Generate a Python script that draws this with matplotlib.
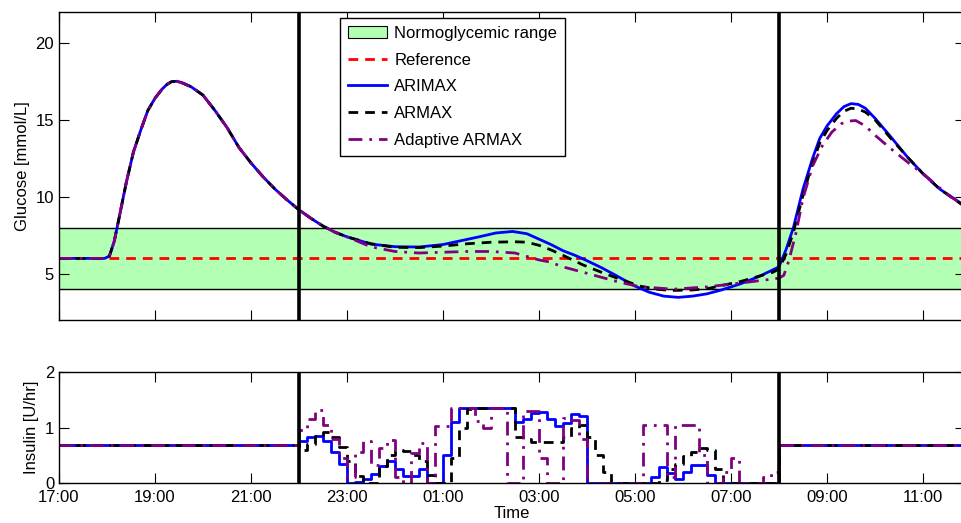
import numpy as np
import matplotlib
matplotlib.use("Agg")
import matplotlib.pyplot as plt
from matplotlib.patches import Patch
from matplotlib.lines import Line2D

plt.rcParams['font.family'] = ['Liberation Sans', 'DejaVu Sans']
plt.rcParams['font.size'] = 12

# glucose (hours since 00:00 of day 1, values mmol/L)
t_common = [17.0, 17.95, 18.05, 18.15, 18.25, 18.4, 18.55, 18.7, 18.85, 19.0, 19.15,
            19.25, 19.35, 19.45, 19.55, 19.75, 20.0, 20.25, 20.5, 20.75, 21.0, 21.25, 21.5,
            21.75, 22.0, 22.25, 22.5, 22.75, 23.0]
g_common = [6.0, 6.0, 6.15, 7.1, 8.6, 10.9, 12.9, 14.3, 15.6, 16.4, 17.0,
            17.3, 17.48, 17.5, 17.42, 17.15, 16.6, 15.6, 14.5, 13.2, 12.2, 11.3, 10.5,
            9.8, 9.15, 8.6, 8.1, 7.7, 7.4]

t_arimax = [23.5, 24.0, 24.5, 25.0, 25.3, 25.75, 26.1, 26.45, 26.75, 27.0, 27.25,
            27.5, 27.75, 28.0, 28.3, 28.6, 29.0, 29.3, 29.6, 29.9, 30.2, 30.5,
            30.8, 31.2, 31.6, 32.0, 32.15, 32.3, 32.5, 32.7, 32.85, 33.0, 33.2,
            33.35, 33.5, 33.65, 33.8, 34.0, 34.3, 34.67, 35.0, 35.35, 35.9]
g_arimax = [6.93, 6.76, 6.74, 6.9, 7.1, 7.4, 7.65, 7.75, 7.6, 7.25, 6.9,
            6.5, 6.2, 5.85, 5.4, 4.9, 4.2, 3.8, 3.55, 3.47, 3.55, 3.7,
            3.95, 4.35, 4.85, 5.45, 6.6, 8.0, 10.5, 12.5, 13.8, 14.6, 15.4,
            15.85, 16.05, 16.0, 15.75, 15.1, 14.0, 12.6, 11.5, 10.5, 9.35]

t_armax = [23.5, 24.0, 24.5, 25.0, 25.5, 26.0, 26.5, 26.75, 27.0, 27.25, 27.5,
           27.9, 28.3, 28.6, 29.1, 29.5, 29.8, 30.2, 30.5, 31.2, 31.87, 32.0,
           32.15, 32.3, 32.5, 32.7, 32.85, 33.0, 33.2, 33.35, 33.5, 33.65, 33.8,
           34.0, 34.3, 34.67, 35.0, 35.35, 35.9]
g_armax = [6.95, 6.72, 6.7, 6.8, 6.95, 7.05, 7.08, 7.05, 6.85, 6.55, 6.2,
           5.6, 5.1, 4.75, 4.2, 3.98, 3.92, 3.95, 4.03, 4.5, 5.1, 5.3,
           6.3, 7.7, 10.1, 12.2, 13.5, 14.3, 15.1, 15.55, 15.75, 15.7, 15.5,
           15.0, 13.9, 12.6, 11.5, 10.5, 9.3]

t_adapt = [23.5, 24.0, 24.5, 25.0, 25.5, 26.0, 26.5, 27.0, 27.22, 27.5, 27.92,
           28.62, 29.1, 29.8, 30.5, 31.2, 31.87, 32.0, 32.1, 32.2, 32.35, 32.5,
           32.7, 32.9, 33.1, 33.3, 33.45, 33.6, 33.8, 34.0, 34.3, 34.7, 35.08,
           35.45, 35.9]
g_adapt = [6.75, 6.45, 6.35, 6.4, 6.45, 6.45, 6.35, 5.9, 5.77, 5.45, 5.1,
           4.5, 4.16, 4.0, 4.15, 4.4, 4.66, 4.72, 4.9, 5.8, 7.6, 9.9,
           12.0, 13.3, 14.2, 14.75, 14.92, 14.95, 14.6, 14.0, 13.2, 12.2, 11.3,
           10.3, 9.3]

ref_level = 6.0
normo_low, normo_high = 4.0, 8.0

# insulin: basal rate, and 10-min controller steps 22:00 -> 08:00
basal = 0.68
ins_arimax = [0.75, 0.82, 0.85, 0.75, 0.55, 0.35, 0, 0.02, 0.08, 0.17,
              0.3, 0.4, 0.26, 0.12, 0.12, 0.25, 0, 0, 0.5, 1.1,
              1.36, 1.36, 1.36, 1.36, 1.36, 1.36, 1.36, 1.1, 1.15, 1.26,
              1.28, 1.15, 1.02, 1.08, 1.25, 1.2, 0, 0, 0, 0,
              0, 0, 0, 0, 0.1, 0.29, 0.18, 0.07, 0.2, 0.33,
              0.32, 0.15, 0, 0, 0, 0, 0, 0, 0, 0]
ins_armax = [0.6, 0.7, 0.85, 0.92, 0.82, 0.65, 0.4, 0.12, 0, 0,
             0.3, 0.5, 0.6, 0.58, 0.5, 0.4, 0.15, 0, 0, 0.45,
             1.0, 1.33, 1.36, 1.36, 1.36, 1.36, 1.36, 0.83, 0.8, 0.74,
             0.74, 0.74, 0.74, 0.82, 1.0, 1.04, 0.83, 0.5, 0.2, 0,
             0, 0, 0, 0, 0, 0.05, 0.25, 0.35, 0.48, 0.55,
             0.63, 0.6, 0.25, 0, 0, 0, 0, 0, 0, 0]
ins_adapt = [0.95, 1.15, 1.31, 1.05, 0.8, 0.45, 0.1, 0.55, 0.75, 0.32,
             0.63, 0.77, 0.1, 0, 0.54, 0.72, 0, 1.02, 1.02, 1.36,
             1.36, 1.36, 1.12, 1.0, 1.36, 1.36, 0, 0, 1.3, 1.3,
             0.45, 0, 0, 1.17, 1.13, 0.8, 0, 0, 0, 0,
             0, 0, 0, 1.04, 1.04, 1.04, 0.1, 1.04, 1.04, 1.04,
             0.5, 0, 0, 0.2, 0.45, 0, 0, 0, 0.1, 0.2]

tick_hours = [17, 19, 21, 23, 25, 27, 29, 31, 33, 35]
tick_labels = ['17:00', '19:00', '21:00', '23:00', '01:00', '03:00',
               '05:00', '07:00', '09:00', '11:00']
meal_times = [22.0, 32.0]
xmax = 35.875

fig = plt.figure(figsize=(9.62, 5.23), dpi=100)
ax1 = fig.add_axes([59/962, 203/523, (965-59)/962, 308/523])
ax2 = fig.add_axes([59/962, 40/523, (965-59)/962, 111/523])

green = '#b3ffb3'
purple = '#800080'
dash = (3.5, 2.5)
dashdot = (5, 2.5, 1, 2.5)

# --- glucose panel
ax1.axhspan(normo_low, normo_high, color=green, zorder=0)
ax1.axhline(normo_low, color='k', lw=1)
ax1.axhline(normo_high, color='k', lw=1)
ax1.plot([17, xmax], [ref_level, ref_level], color='red', ls='--', lw=2, dashes=dash)
ax1.plot(t_common + t_arimax, g_common + g_arimax, color='blue', lw=2)
ax1.plot(t_common + t_armax, g_common + g_armax, color='k', ls='--', lw=2, dashes=dash)
ax1.plot(t_common + t_adapt, g_common + g_adapt, color=purple, ls='-.', lw=2,
         dashes=dashdot)
for m in meal_times:
    ax1.axvline(m, color='k', lw=2.6)
ax1.set_ylim(2, 22)
ax1.set_yticks([5, 10, 15, 20])
ax1.set_ylabel('Glucose [mmol/L]')

handles = [Patch(facecolor=green, edgecolor='k', lw=0.8, label='Normoglycemic range'),
           Line2D([], [], color='red', ls='--', lw=2, dashes=dash, label='Reference'),
           Line2D([], [], color='blue', lw=2, label='ARIMAX'),
           Line2D([], [], color='k', ls='--', lw=2, dashes=dash, label='ARMAX'),
           Line2D([], [], color=purple, ls='-.', lw=2, dashes=dashdot,
                  label='Adaptive ARMAX')]
leg = ax1.legend(handles=handles, loc='upper center', bbox_to_anchor=(0.4345, 0.982),
                 borderaxespad=0, fancybox=False, framealpha=1, edgecolor='k',
                 handlelength=2.3, labelspacing=0.7, fontsize=12,
                 borderpad=0.5, handletextpad=0.45)
leg.get_frame().set_linewidth(1)

# --- insulin panel
t_ctrl = 22.0 + np.arange(len(ins_arimax)) / 6.0
t_ins = np.concatenate([[17.0], t_ctrl, [32.0, xmax]])
for vals, kw in [(ins_arimax, dict(color='blue', lw=2)),
                 (ins_armax, dict(color='k', ls='--', lw=2, dashes=dash)),
                 (ins_adapt, dict(color=purple, ls='-.', lw=2, dashes=dashdot))]:
    y = np.concatenate([[basal], vals, [basal, basal]])
    ax2.plot(t_ins, y, drawstyle='steps-post', **kw)
for m in meal_times:
    ax2.axvline(m, color='k', lw=2.6)
ax2.set_ylim(0, 2)
ax2.set_yticks([0, 1, 2])
ax2.set_ylabel('Insulin [U/hr]')
ax2.set_xlabel('Time', labelpad=1)

for ax in (ax1, ax2):
    ax.set_xlim(17, xmax)
    ax.set_xticks(tick_hours)
    ax.tick_params(direction='in', top=True, right=True, length=7, width=0.8,
                   labelsize=12)
    for s in ax.spines.values():
        s.set_linewidth(1)
ax1.set_xticklabels([])
ax2.set_xticklabels(tick_labels)
ax2.tick_params(axis='x', pad=5)

fig.savefig('out.png', dpi=100)
